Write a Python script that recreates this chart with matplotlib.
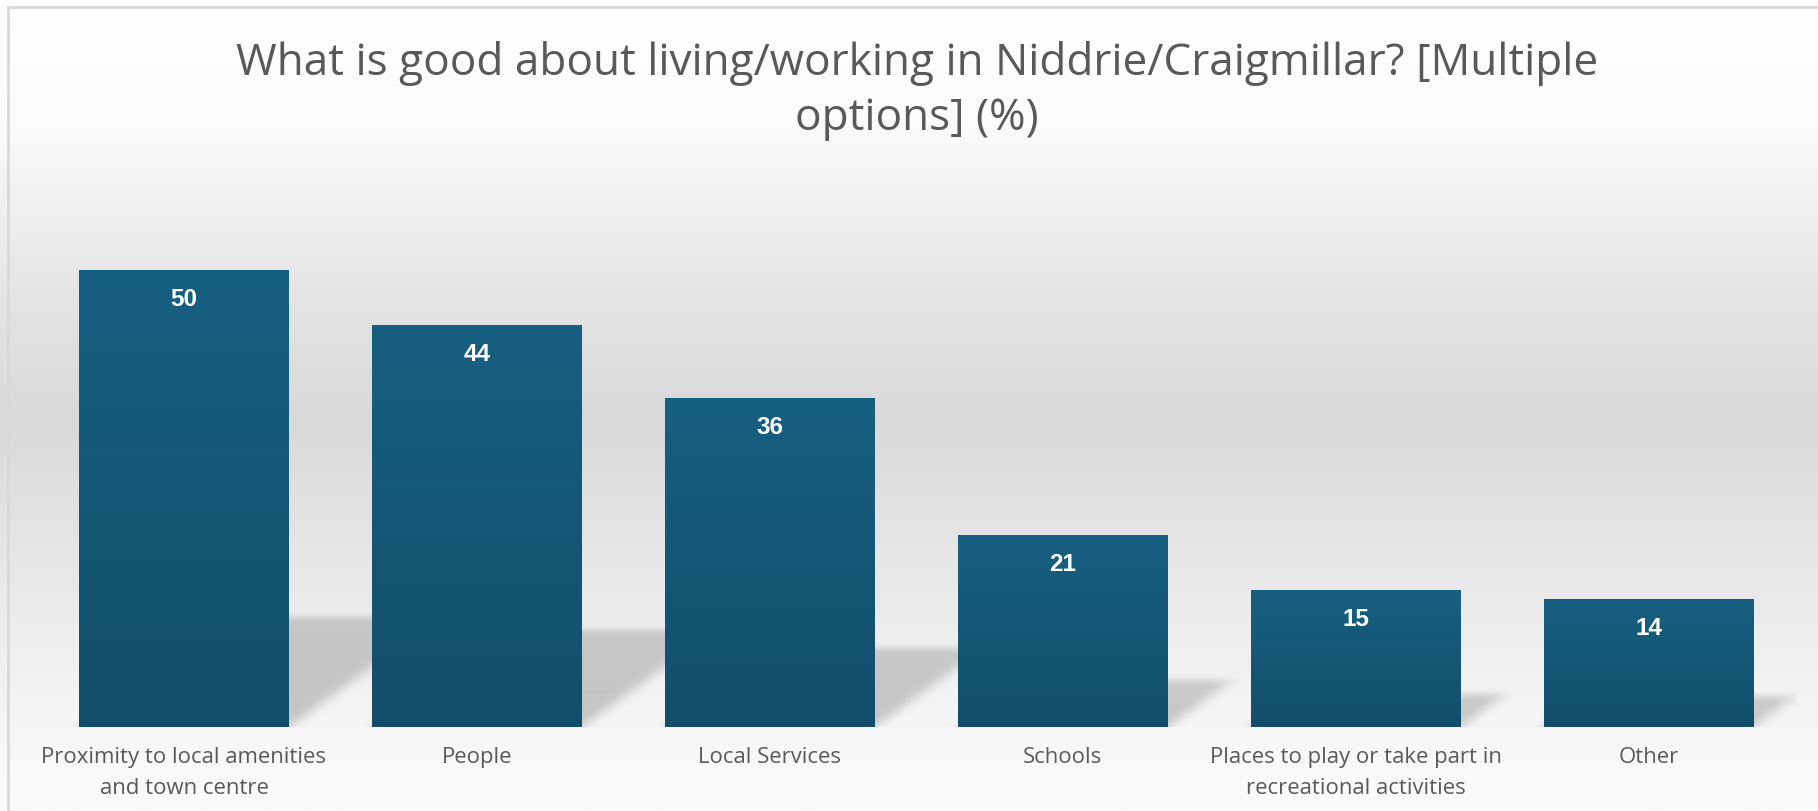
import numpy as np
import matplotlib
matplotlib.use("Agg")
import matplotlib.pyplot as plt
from matplotlib.colors import LinearSegmentedColormap

# Survey responses (% of respondents, multiple options allowed)
categories = [
    "Proximity to local amenities\nand town centre",
    "People",
    "Local Services",
    "Schools",
    "Places to play or take part in\nrecreational activities",
    "Other",
]
values = [50, 44, 36, 21, 15, 14]
title = "What is good about living/working in Niddrie/Craigmillar? [Multiple\noptions] (%)"

W, H, DPI = 1818, 811, 100
fig = plt.figure(figsize=(W / DPI, H / DPI), dpi=DPI)

# Chart-area background: soft vertical gradient
bg_ax = fig.add_axes([0, 0, 1, 1], zorder=0)
bg_ax.set_axis_off()
stops = [(0.0, "#ffffff"), (0.15, "#fbfbfb"), (0.37, "#e4e4e4"),
         (0.52, "#d9d9d9"), (0.68, "#e6e6e6"), (0.90, "#f6f6f6"), (1.0, "#fbfbfb")]
bg_cmap = LinearSegmentedColormap.from_list("bg", stops)
grad = np.linspace(0, 1, 512).reshape(-1, 1)
bg_ax.imshow(grad, cmap=bg_cmap, aspect="auto", extent=[0, 1, 1, 0])
bg_ax.set_xlim(0, 1)
bg_ax.set_ylim(1, 0)

# Chart border (top and left edges visible)
bx, by = 8 / W, 1 - 7 / H
fig.add_artist(plt.Line2D([bx, 1.01], [by, by], transform=fig.transFigure,
                          color="#d9d9d9", lw=2, zorder=1))
fig.add_artist(plt.Line2D([bx, bx], [by, -0.01], transform=fig.transFigure,
                          color="#d9d9d9", lw=2, zorder=1))

# Plot area
left, right = 37.5 / W, 1795 / W
bottom, top = 1 - 727 / H, 1 - 179 / H
ax = fig.add_axes([left, bottom, right - left, top - bottom], zorder=2)
ax.patch.set_alpha(0)
for s in ax.spines.values():
    s.set_visible(False)
ax.set_yticks([])

x = np.arange(len(values))
bar_w = 1 / 1.4

# Perspective shadows cast behind each bar, softened with a gaussian blur
ymax_sh = 20.0
nx, ny = 1200, 200
gx = np.linspace(-0.5, len(values) - 0.5, nx)
gy = np.linspace(0, ymax_sh, ny)
GX, GY = np.meshgrid(gx, gy)
mask = np.zeros_like(GX)
for xi, v in zip(x, values):
    sh_h = 0.24 * v
    shift = 0.0103 * v
    t = GY / sh_h
    inside = (t <= 1.0) & (GX >= xi - bar_w / 2 + shift * t) & (GX <= xi + bar_w / 2 + shift * t)
    # slightly lighter toward the far (upper) end of the shadow
    mask = np.maximum(mask, inside * (1.0 - 0.2 * np.clip(t, 0, 1)))


def blur(a, sigma_x, sigma_y):
    def kern(s):
        r = int(3 * s) + 1
        k = np.exp(-0.5 * (np.arange(-r, r + 1) / s) ** 2)
        return k / k.sum()
    kx, ky = kern(sigma_x), kern(sigma_y)
    a = np.apply_along_axis(lambda m: np.convolve(np.pad(m, len(kx) // 2, mode="edge"), kx, mode="valid"), 1, a)
    a = np.apply_along_axis(lambda m: np.convolve(np.pad(m, len(ky) // 2, mode="edge"), ky, mode="valid"), 0, a)
    return a


mask = blur(mask, 5.0, 3.5)
shadow = np.zeros((ny, nx, 4))
shadow[..., 3] = 0.2 * mask
ax.imshow(shadow, origin="lower", aspect="auto",
          extent=[-0.5, len(values) - 0.5, 0, ymax_sh], zorder=1, interpolation="bilinear")

# Bars with a vertical gradient fill
bars = ax.bar(x, values, width=bar_w, color="#155a7b", zorder=2, linewidth=0)
bar_cmap = LinearSegmentedColormap.from_list("bar", ["#124e6b", "#175f81"])
bar_grad = np.linspace(0, 1, 256).reshape(-1, 1)
for b in bars:
    bx0, bw, bh = b.get_x(), b.get_width(), b.get_height()
    im = ax.imshow(bar_grad, cmap=bar_cmap, origin="lower", aspect="auto",
                   extent=[bx0, bx0 + bw, 0, bh], zorder=3)
    im.set_clip_path(b)

ax.set_xlim(-0.5, len(values) - 0.5)
ax.set_ylim(0, 60)

# Value labels inside the top of each bar
for xi, v in zip(x, values):
    ax.annotate(f"{v}", xy=(xi, v), xytext=(0, -21), textcoords="offset points",
                ha="center", va="center", color="white", fontsize=17.5,
                fontweight="bold", family="Liberation Sans", zorder=4)

# Category labels
ax.set_xticks(x)
ax.set_xticklabels(categories, fontsize=15.9, color="#595959", family="Open Sans",
                   linespacing=1.6)
ax.tick_params(axis="x", length=0, pad=14.5)

# Title
fig.text(917 / W, 1 - 91 / H, title, ha="center", va="center", fontsize=31.8,
         color="#595959", family="Open Sans", linespacing=1.32)

fig.savefig("out.png", dpi=DPI)
